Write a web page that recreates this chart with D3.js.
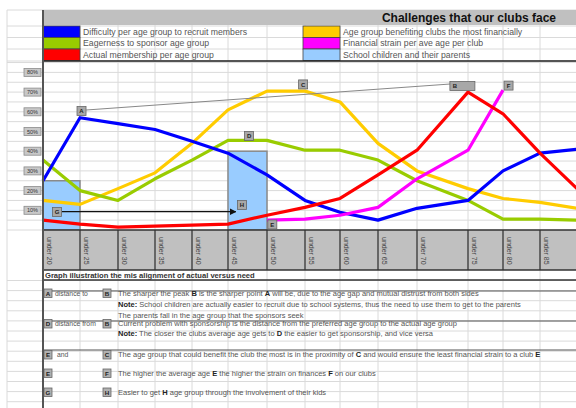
<!DOCTYPE html>
<html>
<head>
<meta charset="utf-8">
<script src="https://cdn.jsdelivr.net/npm/d3@7"></script>
<style>
  body { margin: 0; background: #fff; }
  svg { display: block; font-family: "Liberation Sans", Arial, sans-serif; }
</style>
</head>
<body>
<div id="chart"></div>
<script>
// values (percent)
const categories = ['under 20', 'under 25', 'under 30', 'under 35', 'under 40', 'under 45', 'under 50',
    'under 55', 'under 60', 'under 65', 'under 70', 'under 75', 'under 80', 'under 85'];
const difficulty = [25, 57, 54, 51, 45, 39, 28, 15, 9, 5, 11, 15, 30, 39, 41];
const eagerness  = [35.5, 20, 15, 26, 35.5, 45.5, 45.5, 40.5, 40.5, 35.5, 25, 15, 5.5, 5.5, 5];
const membership = [5, 3, 1.5, 2, 2.5, 3, 7.5, 11.5, 16, 28, 40.5, 70, 59, 39, 21];
const benefiting = [15, 13, 21, 29, 44, 61, 70.5, 70.5, 65, 44, 30, 21, 16, 14, 11];
const strain     = [null, null, null, null, null, null, 5, 5.5, 7.5, 11.5, 26, 40.5, 71, null, null];
const schoolKids = [25, null, null, null, null, 40, null, null, null, null, null, null, null, null];
const yTicks = [10, 20, 30, 40, 50, 60, 70, 80];

const legendLeft = [
    { name: 'Difficulty per age group to recruit members', color: '#0000ff' },
    { name: 'Eagerness to sponsor age group', color: '#99cc00' },
    { name: 'Actual membership per age group', color: '#ff0000' }
];
const legendRight = [
    { name: 'Age group benefiting clubs the most financially', color: '#ffcc00' },
    { name: 'Financial strain per ave age per club', color: '#ff00ff' },
    { name: 'School children and their parents', color: '#99ccff' }
];

// letter markers placed in chart coordinates (category index, percent)
const markers = [
    { k: 'A', i: 1.04, v: 60.4 },
    { k: 'C', i: 6.95, v: 73.9 },
    { k: 'B', i: 10.89, v: 73.1, w: 25 },
    { k: 'D', i: 5.54, v: 47.7 },
    { k: 'F', i: 12.15, v: 73.3 },
    { k: 'E', i: 6.14, v: 2.8 },
    { k: 'G', i: 0.38, v: 9.1 },
    { k: 'H', i: 5.36, v: 12.7 }
];

const notes = [
    { a: 'A', mid: 'distance to', b: 'B', text: 'The sharper the peak *B* is the sharper point *A* will be, due to the age gap and mutual distrust from both sides' },
    { text: '*Note:* School children are actually easier to recruit due to school systems, thus the need to use them to get to the parents' },
    { text: 'The parents fall in the age group that the sponsors seek' },
    { a: 'D', mid: 'distance from', b: 'B', text: 'Current  problem with sponsorship is the distance from the preferred age group to the actual age group' },
    { text: '*Note:* The closer the clubs average age gets to *D* the easier to get sponsorship, and vice versa' },
    { a: 'E', mid: 'and', b: 'C', text: 'The age group that could benefit the club the most is in the proximity of *C* and would ensure the least financial strain to a club *E*' },
    { a: 'E', b: 'F', text: 'The higher the average age *E* the higher the strain on finances *F* on our clubs' },
    { a: 'G', b: 'H', text: 'Easier to get *H* age group through the involvement of their kids' }
];
const noteY = [295.5, 306.5, 317.5, 326, 336, 357, 375.5, 394.5];

const width = 576;
const height = 408;
// spreadsheet column edges the chart sits on
const xEdges = [43, 80, 118, 155, 192, 228, 267, 305, 340, 378, 417, 468, 503, 540, 577];

const x = d3.scaleLinear().domain(d3.range(xEdges.length)).range(xEdges);
const y = d3.scaleLinear().domain([0, 80]).range([230, 72.4]);

const svg = d3.select('#chart').append('svg')
    .attr('width', width)
    .attr('height', height);

// ---- spreadsheet grid ----
const grid = svg.append('g').attr('stroke', '#dadada').attr('stroke-width', 1);
[10, 26, 37.5, 49, 61].forEach(function(r) {
    grid.append('line').attr('x1', 7).attr('x2', width).attr('y1', r).attr('y2', r);
});
d3.range(0, 86, 5).forEach(function(v) {
    grid.append('line').attr('x1', 7).attr('x2', width).attr('y1', y(v)).attr('y2', y(v));
});
d3.range(280.5, height, 10.1).forEach(function(r) {
    grid.append('line').attr('x1', 7).attr('x2', width).attr('y1', r).attr('y2', r);
});
grid.append('line').attr('x1', 7).attr('x2', 7).attr('y1', 10).attr('y2', height);
xEdges.forEach(function(e) {
    grid.append('line').attr('x1', e).attr('x2', e).attr('y1', 10).attr('y2', height);
});

// ---- title and legend ----
svg.append('rect').attr('x', 43).attr('y', 10).attr('width', width - 43).attr('height', 15)
    .attr('fill', '#c0c0c0');
svg.append('text').attr('x', 556).attr('y', 22).attr('text-anchor', 'end')
    .attr('font-size', 12).attr('font-weight', 'bold').attr('fill', '#111')
    .text('Challenges that our clubs face');

const rowTop = [26, 37.5, 49];
function drawLegend(items, x0) {
    const g = svg.append('g').selectAll('g').data(items).enter().append('g')
        .attr('transform', function(d, i) { return 'translate(' + x0 + ',' + rowTop[i] + ')'; });
    g.append('rect').attr('width', 37).attr('height', 11.5)
        .attr('fill', function(d) { return d.color; })
        .attr('stroke', '#444').attr('stroke-width', 0.8);
    g.append('text').attr('x', 40).attr('y', 8.8).attr('font-size', 8.7).attr('fill', '#555')
        .text(function(d) { return d.name; });
}
drawLegend(legendLeft, 43);
drawLegend(legendRight, 303);
svg.append('line').attr('x1', 43).attr('x2', width).attr('y1', 61).attr('y2', 61)
    .attr('stroke', '#222').attr('stroke-width', 1.5);

// ---- y tick boxes ----
const ticks = svg.append('g').selectAll('g').data(yTicks).enter().append('g')
    .attr('transform', function(d) { return 'translate(24,' + y(d) + ')'; });
ticks.append('rect').attr('x', 0).attr('y', -4).attr('width', 17).attr('height', 8)
    .attr('fill', '#c8c8c8').attr('stroke', '#8c8c8c').attr('stroke-width', 0.8);
ticks.append('text').attr('x', 8.5).attr('y', 2).attr('text-anchor', 'middle')
    .attr('font-size', 5.5).attr('fill', '#333')
    .text(function(d) { return d + '%'; });

// ---- school children bars ----
svg.append('g').selectAll('rect')
    .data(schoolKids.map(function(v, i) { return { v: v, i: i }; }).filter(function(d) { return d.v != null; }))
    .enter().append('rect')
    .attr('x', function(d) { return x(d.i); })
    .attr('width', function(d) { return x(d.i + 1) - x(d.i); })
    .attr('y', function(d) { return y(d.v); })
    .attr('height', function(d) { return y(0) - y(d.v); })
    .attr('fill', '#99ccff')
    .attr('stroke', '#8a8a8a')
    .attr('stroke-width', 1.5);

// ---- x axis band ----
svg.append('rect').attr('x', 43).attr('y', 230).attr('width', width - 43).attr('height', 40)
    .attr('fill', '#c0c0c0');
xEdges.forEach(function(e) {
    svg.append('line').attr('x1', e).attr('x2', e).attr('y1', 230).attr('y2', 270)
        .attr('stroke', '#666').attr('stroke-width', 2);
});
[230, 270, 280].forEach(function(r) {
    svg.append('line').attr('x1', 43).attr('x2', width).attr('y1', r).attr('y2', r)
        .attr('stroke', '#333').attr('stroke-width', 1.5);
});
svg.append('g').selectAll('text').data(categories).enter().append('text')
    .attr('transform', function(d, i) { return 'translate(' + (x(i) + 3.5) + ',237) rotate(90)'; })
    .attr('font-size', 7).attr('fill', '#444')
    .text(function(d) { return d; });
svg.append('text').attr('x', 45).attr('y', 278).attr('font-size', 7.6).attr('font-weight', 'bold')
    .attr('fill', '#333').text('Graph illustration the mis alignment of actual versus need');

// ---- series lines ----
const line = d3.line()
    .defined(function(d) { return d != null; })
    .x(function(d, i) { return x(i); })
    .y(function(d) { return y(d); });

const series = [
    { values: benefiting, color: '#ffcc00' },
    { values: eagerness, color: '#99cc00' },
    { values: difficulty, color: '#0000ff' },
    { values: strain, color: '#ff00ff' },
    { values: membership, color: '#ff0000' }
];
svg.append('g').selectAll('path').data(series).enter().append('path')
    .attr('d', function(d) { return line(d.values); })
    .attr('fill', 'none')
    .attr('stroke', function(d) { return d.color; })
    .attr('stroke-width', 3.2)
    .attr('stroke-linejoin', 'round');

// ---- annotation lines ----
svg.append('defs').append('marker')
    .attr('id', 'arrow').attr('viewBox', '0 0 10 10').attr('refX', 9).attr('refY', 5)
    .attr('markerWidth', 5).attr('markerHeight', 5).attr('orient', 'auto')
    .append('path').attr('d', 'M0,0L10,5L0,10z').attr('fill', '#111');

svg.append('line')
    .attr('x1', x(1.16)).attr('y1', y(60.9)).attr('x2', x(10.65)).attr('y2', y(74.1))
    .attr('stroke', '#888').attr('stroke-width', 1);
svg.append('line')
    .attr('x1', x(0.51)).attr('y1', y(9.3)).attr('x2', x(5.2)).attr('y2', y(9.3))
    .attr('stroke', '#111').attr('stroke-width', 1.3)
    .attr('marker-end', 'url(#arrow)');

// ---- letter markers ----
const mk = svg.append('g').selectAll('g').data(markers).enter().append('g')
    .attr('transform', function(d) { return 'translate(' + x(d.i) + ',' + y(d.v) + ')'; });
mk.append('rect')
    .attr('x', function(d) { return -(d.w || 9) / 2; })
    .attr('y', -4.5)
    .attr('width', function(d) { return d.w || 9; })
    .attr('height', 9)
    .attr('fill', '#a8a8a8').attr('stroke', '#666').attr('stroke-width', 0.8);
mk.append('text')
    .attr('x', function(d) { return d.w ? -d.w / 2 + 5 : 0; })
    .attr('y', 2.2).attr('text-anchor', 'middle')
    .attr('font-size', 6).attr('font-weight', 'bold').attr('fill', '#222')
    .text(function(d) { return d.k; });

// ---- explanation notes ----
[291, 321, 350].forEach(function(r) {
    svg.append('line').attr('x1', 43).attr('x2', width).attr('y1', r).attr('y2', r)
        .attr('stroke', '#555').attr('stroke-width', 1.2);
});

function letterBox(g, k, bx, by) {
    g.append('rect').attr('x', bx).attr('y', by - 6.5).attr('width', 8).attr('height', 8.5)
        .attr('fill', '#b0b0b0').attr('stroke', '#666').attr('stroke-width', 0.8);
    g.append('text').attr('x', bx + 4).attr('y', by).attr('text-anchor', 'middle')
        .attr('font-size', 6.2).attr('font-weight', 'bold').attr('fill', '#222').text(k);
}

const noteG = svg.append('g');
notes.forEach(function(n, j) {
    const by = noteY[j];
    if (n.a) letterBox(noteG, n.a, 44, by);
    if (n.b) letterBox(noteG, n.b, 103, by);
    if (n.mid) {
        noteG.append('text').attr('x', n.mid === 'and' ? 57 : 55).attr('y', by)
            .attr('font-size', 6.8).attr('fill', '#555').text(n.mid);
    }
    const t = noteG.append('text').attr('x', 118).attr('y', by)
        .attr('font-size', 7.5).attr('fill', '#555');
    n.text.split('*').forEach(function(part, p) {
        if (!part) return;
        t.append('tspan')
            .attr('font-weight', p % 2 ? 'bold' : null)
            .attr('fill', p % 2 ? '#222' : null)
            .text(part);
    });
});

// left border of the sheet area
svg.append('line').attr('x1', 43).attr('x2', 43).attr('y1', 10).attr('y2', height)
    .attr('stroke', '#555').attr('stroke-width', 2);
</script>
</body>
</html>
